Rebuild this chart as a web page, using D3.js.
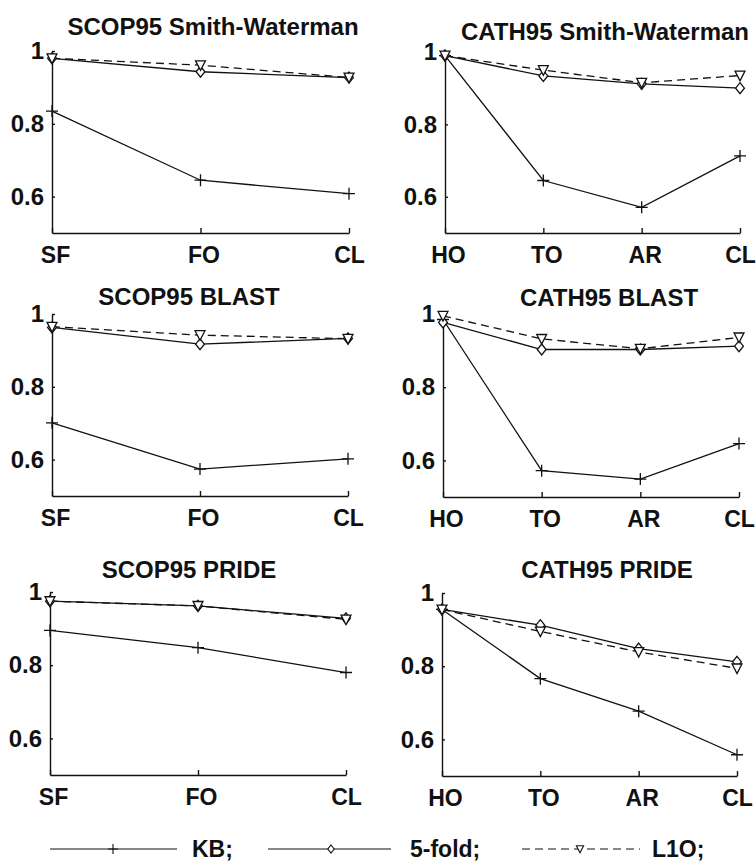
<!DOCTYPE html>
<html>
<head>
<meta charset="utf-8">
<script src="https://cdn.jsdelivr.net/npm/d3@7"></script>
<style>
  body { margin: 0; background: #fff; }
  svg text { font-family: "Liberation Sans", Arial, sans-serif; font-weight: bold; fill: #111; }
</style>
</head>
<body>
<div id="chart"></div>
<script>
const width = 756, height = 863;

// categories and tick labels
const scopCategories = ["SF", "FO", "CL"];
const cathCategories = ["HO", "TO", "AR", "CL"];
const yTicks = [0.6, 0.8, 1];
const seriesNames = ["KB;", "5-fold;", "L1O;"];
const panelTitles = ["SCOP95 Smith-Waterman", "CATH95 Smith-Waterman",
                     "SCOP95 BLAST", "CATH95 BLAST",
                     "SCOP95 PRIDE", "CATH95 PRIDE"];

// values
const scopSwKB    = [0.835, 0.645, 0.608];
const scopSwFold  = [0.980, 0.943, 0.927];
const scopSwL1O   = [0.980, 0.961, 0.927];
const cathSwKB    = [0.990, 0.645, 0.571, 0.713];
const cathSwFold  = [0.990, 0.934, 0.912, 0.900];
const cathSwL1O   = [0.990, 0.950, 0.915, 0.935];
const scopBlKB    = [0.701, 0.574, 0.602];
const scopBlFold  = [0.963, 0.917, 0.933];
const scopBlL1O   = [0.965, 0.942, 0.932];
const cathBlKB    = [0.985, 0.572, 0.549, 0.646];
const cathBlFold  = [0.977, 0.903, 0.903, 0.912];
const cathBlL1O   = [0.995, 0.932, 0.905, 0.936];
const scopPrKB    = [0.895, 0.848, 0.780];
const scopPrFold  = [0.975, 0.962, 0.928];
const scopPrL1O   = [0.975, 0.962, 0.925];
const cathPrKB    = [0.955, 0.766, 0.677, 0.558];
const cathPrFold  = [0.955, 0.912, 0.848, 0.812];
const cathPrL1O   = [0.955, 0.895, 0.839, 0.794];

const panelData = [
  [scopCategories, scopSwKB, scopSwFold, scopSwL1O],
  [cathCategories, cathSwKB, cathSwFold, cathSwL1O],
  [scopCategories, scopBlKB, scopBlFold, scopBlL1O],
  [cathCategories, cathBlKB, cathBlFold, cathBlL1O],
  [scopCategories, scopPrKB, scopPrFold, scopPrL1O],
  [cathCategories, cathPrKB, cathPrFold, cathPrL1O]
];

// panel frames: left, right, top, bottom, title centre, title baseline
const frames = [
  { x0: 52,  x1: 349, y0: 51,  y1: 233, tx: 213, ty: 35 },
  { x0: 445, x1: 740, y0: 52,  y1: 233, tx: 605, ty: 40 },
  { x0: 52,  x1: 348, y0: 314, y1: 496, tx: 189, ty: 305 },
  { x0: 443, x1: 739, y0: 314, y1: 497, tx: 609, ty: 306 },
  { x0: 50,  x1: 346, y0: 592, y1: 775, tx: 189, ty: 578 },
  { x0: 442, x1: 737, y0: 593, y1: 776, tx: 607, ty: 578 }
];

const ink = "#111";

function markerPath(kind, s) {
  if (kind === 0) return `M${-s},0H${s}M0,${-s}V${s}`;
  if (kind === 1) return `M0,${-s}L${s * 0.8},0L0,${s}L${-s * 0.8},0Z`;
  return `M${-s * 0.9},${-s * 0.8}L${s * 0.9},${-s * 0.8}L0,${s * 0.95}Z`;
}

const svg = d3.select("#chart").append("svg")
  .attr("width", width)
  .attr("height", height);

svg.append("rect").attr("width", width).attr("height", height).attr("fill", "#fff");

panelData.forEach((pd, i) => {
  const f = frames[i];
  const cats = pd[0];
  const w = f.x1 - f.x0, h = f.y1 - f.y0;

  const g = svg.append("g").attr("transform", `translate(${f.x0},${f.y0})`);

  const x = d3.scalePoint().domain(cats).range([0, w]);
  const y = d3.scaleLinear().domain([0.5, 1]).range([h, 0]);

  const xAxis = g.append("g")
    .attr("transform", `translate(0,${h})`)
    .call(d3.axisBottom(x).tickSizeInner(-5).tickSizeOuter(0).tickPadding(14));
  xAxis.selectAll("text").attr("font-size", 23)
    .attr("dx", (d, j) => j === cats.length - 1 ? 0 : 3);

  const yAxis = g.append("g")
    .call(d3.axisLeft(y).tickValues(yTicks).tickFormat(d => String(d))
      .tickSizeInner(-3).tickSizeOuter(0).tickPadding(8));
  yAxis.selectAll("text").attr("font-size", 24);

  g.selectAll(".domain, .tick line").attr("stroke", ink).attr("stroke-width", 1.4);

  const line = d3.line()
    .x((d, j) => x(cats[j]))
    .y(d => y(d));

  [1, 2, 3].forEach(k => {
    g.append("path")
      .datum(pd[k])
      .attr("fill", "none")
      .attr("stroke", ink)
      .attr("stroke-width", 1.3)
      .attr("stroke-dasharray", k === 3 ? "8,5" : null)
      .attr("d", line);
  });

  [1, 2, 3].forEach(k => {
    g.selectAll(null)
      .data(pd[k])
      .join("path")
      .attr("transform", (d, j) => `translate(${x(cats[j])},${y(d)})`)
      .attr("d", markerPath(k - 1, k === 1 ? 6 : 5.5))
      .attr("fill", k === 1 ? "none" : "#fff")
      .attr("stroke", ink)
      .attr("stroke-width", 1.3);
  });

  svg.append("text")
    .attr("x", f.tx)
    .attr("y", f.ty)
    .attr("text-anchor", "middle")
    .attr("font-size", 24)
    .text(panelTitles[i]);
});

// legend
const legendY = 849;
const legendItems = [
  { x0: 50,  x1: 177, m: 113, tx: 192 },
  { x0: 268, x1: 391, m: 331, tx: 410 },
  { x0: 522, x1: 640, m: 580, tx: 652 }
];

legendItems.forEach((it, k) => {
  svg.append("line")
    .attr("x1", it.x0).attr("x2", it.x1)
    .attr("y1", legendY).attr("y2", legendY)
    .attr("stroke", ink)
    .attr("stroke-width", 1)
    .attr("stroke-dasharray", k === 2 ? "8,5" : null);
  svg.append("path")
    .attr("transform", `translate(${it.m},${legendY})`)
    .attr("d", markerPath(k, k === 0 ? 5 : 4))
    .attr("fill", k === 0 ? "none" : "#fff")
    .attr("stroke", ink)
    .attr("stroke-width", 1.1);
  svg.append("text")
    .attr("x", it.tx)
    .attr("y", legendY + 8)
    .attr("font-size", 23)
    .text(seriesNames[k]);
});
</script>
</body>
</html>
